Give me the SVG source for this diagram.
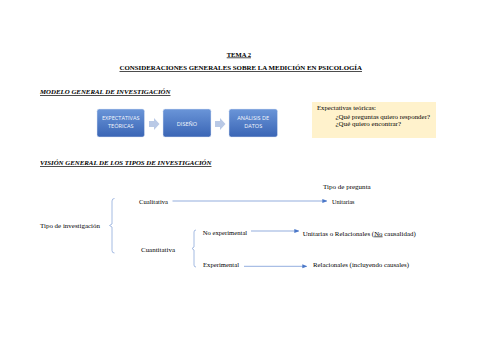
<svg xmlns="http://www.w3.org/2000/svg" width="480" height="339" viewBox="0 0 480 339">
<style>
.t{font-family:"Liberation Serif","Times New Roman",serif;font-size:6.9px;fill:#000}
.h{font-family:"Liberation Serif","Times New Roman",serif;font-size:7px;font-weight:bold;fill:#000;text-decoration:underline}
.hi{font-style:italic}
.bx{fill:url(#bg);stroke:#dfe7f5;stroke-width:0.5}
.bt{font-family:"Open Sans","Liberation Sans",sans-serif;font-size:5.6px;fill:#f4f7fc;text-anchor:middle}
.ba{fill:#b9c9e6}
.br{fill:none;stroke:#8eaadb;stroke-width:0.8}
.cn{fill:none;stroke:#4a77c8;stroke-width:0.6}
</style>
<defs>
<linearGradient id="bg" x1="0" y1="0" x2="0" y2="1">
<stop offset="0" stop-color="#6a95d8"/>
<stop offset="1" stop-color="#3a65b5"/>
</linearGradient>
<marker id="ah" viewBox="0 0 6 6" refX="5" refY="3" markerWidth="5" markerHeight="5" markerUnits="userSpaceOnUse" orient="auto">
<path d="M0,0.6 L6,3 L0,5.4 Z" fill="#4a77c8"/>
</marker>
</defs>
<rect width="480" height="339" fill="#ffffff"/>

<g id="titles">
<text class="h" x="226.7" y="56.5" textLength="24.3" lengthAdjust="spacingAndGlyphs">TEMA 2</text>
<text class="h" x="119.5" y="70" textLength="242.5" lengthAdjust="spacingAndGlyphs">CONSIDERACIONES GENERALES SOBRE LA MEDICIÓN EN PSICOLOGÍA</text>
<text class="h hi" x="40" y="94" textLength="130.5" lengthAdjust="spacingAndGlyphs">MODELO GENERAL DE INVESTIGACIÓN</text>
<text class="h hi" x="40" y="165" textLength="171.5" lengthAdjust="spacingAndGlyphs">VISIÓN GENERAL DE LOS TIPOS DE INVESTIGACIÓN</text>
</g>

<g id="node-expectativas">
<rect class="bx" x="97" y="109" width="47.5" height="28" rx="2.2"/>
<text class="bt" x="120.8" y="120">EXPECTATIVAS</text>
<text class="bt" x="120.8" y="127.5">TEÓRICAS</text>
</g>
<g id="node-diseno">
<rect class="bx" x="163" y="109" width="48" height="28" rx="2.2"/>
<text class="bt" x="187" y="125.5">DISEÑO</text>
</g>
<g id="node-analisis">
<rect class="bx" x="229" y="109" width="48.5" height="28" rx="2.2"/>
<text class="bt" x="253.2" y="120">ANÁLISIS DE</text>
<text class="bt" x="253.2" y="127.5">DATOS</text>
</g>

<g id="block-arrows">
<path class="ba" d="M149,121 H154 V118 L159.5,124 L154,130 V127 H149 Z"/>
<path class="ba" d="M215,121 H220 V118 L225.5,124 L220,130 V127 H215 Z"/>
</g>

<g id="node-expectativas-nota">
<rect x="312" y="102" width="124" height="36" fill="#fff2cc"/>
<text class="t" x="317" y="110.3" textLength="59" lengthAdjust="spacingAndGlyphs">Expectativas teóricas:</text>
<text class="t" x="335.5" y="119" textLength="94.5" lengthAdjust="spacingAndGlyphs">¿Qué preguntas quiero responder?</text>
<text class="t" x="335.5" y="125.7" textLength="65.5" lengthAdjust="spacingAndGlyphs">¿Qué quiero encontrar?</text>
</g>

<g id="node-tipo-pregunta">
<text class="t" x="323" y="188.5" textLength="47.7" lengthAdjust="spacingAndGlyphs">Tipo de pregunta</text>
</g>
<g id="node-tipo-investigacion">
<text class="t" x="40" y="227.5" textLength="60" lengthAdjust="spacingAndGlyphs">Tipo de investigación</text>
</g>
<g id="node-cualitativa">
<text class="t" x="139" y="203.5" textLength="29" lengthAdjust="spacingAndGlyphs">Cualitativa</text>
</g>
<g id="node-unitarias">
<text class="t" x="332" y="204" textLength="22.5" lengthAdjust="spacingAndGlyphs">Unitarias</text>
</g>
<g id="node-cuantitativa">
<text class="t" x="141" y="251.5" textLength="34" lengthAdjust="spacingAndGlyphs">Cuantitativa</text>
</g>
<g id="node-no-experimental">
<text class="t" x="202.7" y="235" textLength="44.5" lengthAdjust="spacingAndGlyphs">No experimental</text>
</g>
<g id="node-unitarias-relacionales">
<text class="t" x="302.7" y="235.5" textLength="113" lengthAdjust="spacingAndGlyphs">Unitarias o Relacionales (<tspan text-decoration="underline">No</tspan> causalidad)</text>
</g>
<g id="node-experimental">
<text class="t" x="203" y="266.5" textLength="36" lengthAdjust="spacingAndGlyphs">Experimental</text>
</g>
<g id="node-relacionales">
<text class="t" x="313" y="267" textLength="96" lengthAdjust="spacingAndGlyphs">Relacionales (incluyendo causales)</text>
</g>

<g id="connectors">
<path class="br" d="M114.5,198.5 Q112,198.5 112,201 V224 L109.5,225.5 L112,227 V250.5 Q112,253 114.5,253"/>
<path class="br" d="M196,230 Q194,230 194,232 V247 L192,248.5 L194,250 V265 Q194,267 196,267"/>
<line class="cn" x1="172.5" y1="201" x2="326.5" y2="201" marker-end="url(#ah)"/>
<line class="cn" x1="251" y1="231" x2="298.5" y2="231" marker-end="url(#ah)"/>
<line class="cn" x1="244" y1="266.3" x2="306.5" y2="266.3" marker-end="url(#ah)"/>
</g>
</svg>
